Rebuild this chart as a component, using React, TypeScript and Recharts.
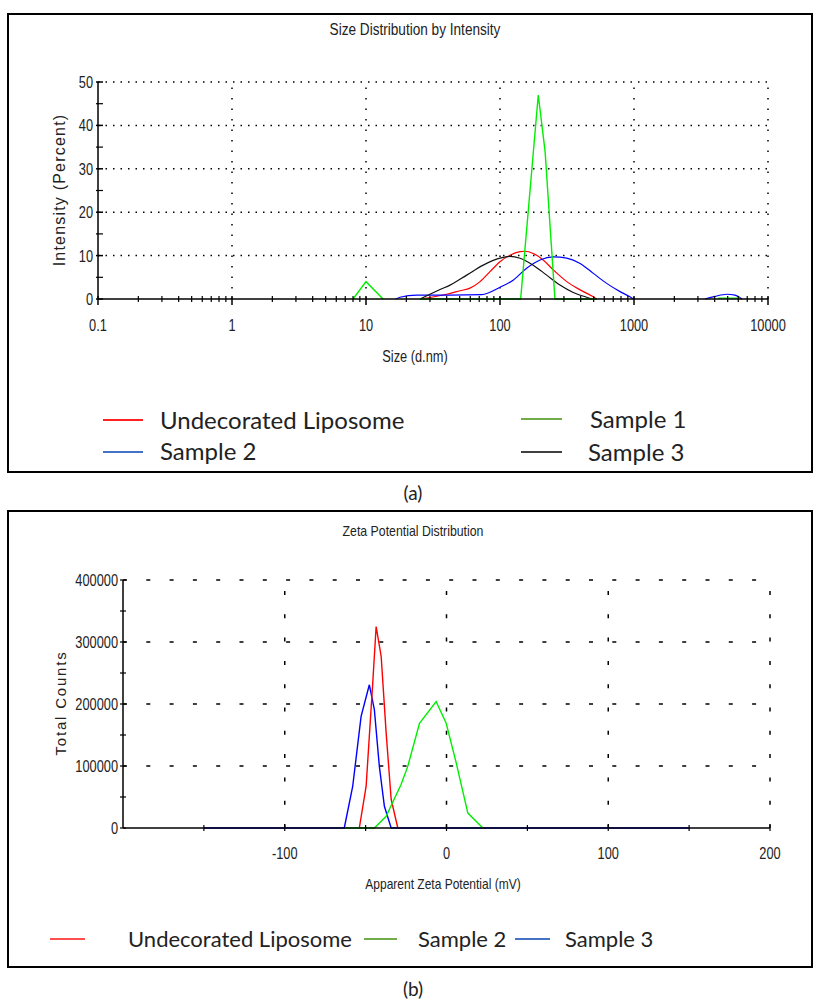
import React from "react";
import { LineChart, Line, XAxis, YAxis, ReferenceLine } from "recharts";

const NARROW = "'Liberation Sans', Arial, sans-serif";
const SQUEEZE = 0.8;
const BODY = "Lato, 'Open Sans', sans-serif";

// ---------- (a) size distribution ----------
const sizeDecades = [0.1, 1, 10, 100, 1000, 10000];
const sizeTickLabels = ["0.1", "1", "10", "100", "1000", "10000"];
const sizeMinor = [2, 3, 4, 5, 6, 7, 8, 9];
const intensityTicks = [0, 5, 10, 15, 20, 25, 30, 35, 40, 45, 50];
const intensityGrid = [10, 20, 30, 40, 50];

const liposomeSize = [25.3, 40, 50.3, 59.7, 71, 84.2, 100, 118.8, 141, 154, 177, 210, 250, 315, 396, 497, 526];
const liposomeIntensity = [0, 1.1, 1.9, 2.5, 4.0, 6.3, 8.6, 10.1, 10.9, 11.0, 10.5, 9.0, 6.7, 4.0, 2.1, 0.5, 0];

const sample1Size = [8, 10, 13.4, 19, 25.3, 142.6, 193, 217, 257, 530, 3000, 4240, 6180];
const sample1Intensity = [0, 4, 0, null, 0, 0, 47, 34, 0, 0, null, 0.2, 0.2];

const sample2Size = [16.7, 17.9, 23.9, 42.4, 73, 100, 126, 158, 199, 250, 315, 396, 497, 625, 787, 933, 990, 2000, 3390, 4020, 4940, 5670, 6400];
const sample2Intensity = [0, 0.4, 0.9, 0.9, 1.0, 2.7, 4.4, 7.1, 9.0, 9.7, 9.4, 8.2, 5.9, 3.6, 1.7, 0.5, 0, null, 0, 0.6, 1.1, 0.9, 0];

const sample3Size = [25.3, 30, 35.7, 42.4, 56.4, 75, 100, 118.8, 141, 177, 223, 280, 352, 443, 486];
const sample3Intensity = [0, 1.1, 2.2, 3.2, 5.5, 7.8, 9.4, 9.8, 9.4, 7.8, 5.5, 3.2, 1.5, 0.4, 0];

// ---------- (b) zeta potential ----------
const zetaTicks = [-150, -100, -50, 0, 50, 100, 150, 200];
const zetaLabelled = [-100, 0, 100, 200];
const countTicks = [0, 50000, 100000, 150000, 200000, 250000, 300000, 350000, 400000];
const countGrid = [100000, 200000, 300000, 400000];

const zLiposomeMv = [-53.9, -49.7, -45.6, -43.5, -40.4, -37.3, -34.2, -30.1];
const zLiposomeCounts = [0, 67000, 234000, 325000, 277000, 153000, 46000, 0];

const zSample2Mv = [-62.5, -44.6, -37.3, -28.1, -24.0, -16.7, -6.4, -0.2, 6.0, 13.2, 22.5];
const zSample2Counts = [0, 0, 19000, 70000, 99000, 169000, 204000, 169000, 105000, 24000, 0];

const zSample3Mv = [-150, -63.2, -58, -52.8, -47.7, -44.6, -41.5, -38.4, -34.2, 150];
const zSample3Counts = [0, 0, 67000, 180000, 231000, 191000, 99000, 35000, 0, 0];

const toPoints = (xs: number[], ys: (number | null)[]) => xs.map((x, i) => ({ x, y: ys[i] }));

const sizeTicks = [
  ...sizeDecades,
  ...sizeDecades.slice(0, -1).flatMap((d) => sizeMinor.map((m) => d * m)),
];

// squeezed axis numbers, like the instrument's narrow font
function Num({ x, y, anchor, children }: any) {
  return (
    <text
      transform={`translate(${x},${y}) scale(${SQUEEZE},1)`}
      textAnchor={anchor}
      fontSize={16}
      fontFamily={NARROW}
      fill="#222"
    >
      {children}
    </text>
  );
}

function SizeTick({ x, y, payload }: any) {
  const i = sizeDecades.indexOf(payload.value);
  if (i < 0) return <line x1={x} x2={x} y1={y - 3} y2={y + 3} stroke="#000" strokeWidth={1.2} />;
  return (
    <g>
      <line x1={x} x2={x} y1={y - 3} y2={y + 6} stroke="#000" strokeWidth={1.5} />
      <Num x={x} y={y + 32} anchor="middle">{sizeTickLabels[i]}</Num>
    </g>
  );
}

function IntensityTick({ x, y, payload }: any) {
  const v = payload.value;
  if (v % 10 !== 0) return <line x1={x - 2} x2={x + 5} y1={y} y2={y} stroke="#000" strokeWidth={1.2} />;
  return (
    <g>
      <line x1={x - 2} x2={x + 5} y1={y} y2={y} stroke="#000" strokeWidth={1.5} />
      <Num x={x - 5} y={y + 6} anchor="end">{v}</Num>
    </g>
  );
}

function ZetaTick({ x, y, payload }: any) {
  const v = payload.value;
  return (
    <g>
      <line x1={x} x2={x} y1={y - 3} y2={y + 3} stroke="#000" strokeWidth={1.2} />
      {zetaLabelled.includes(v) && <Num x={x} y={y + 31} anchor="middle">{v}</Num>}
    </g>
  );
}

function CountTick({ x, y, payload }: any) {
  const v = payload.value;
  return (
    <g>
      <line x1={x - 3} x2={x + 3} y1={y} y2={y} stroke="#000" strokeWidth={1.2} />
      {v % 100000 === 0 && <Num x={x - 5} y={y + 6} anchor="end">{v}</Num>}
    </g>
  );
}

function Txt({ x, y, children, size, font, anchor = "middle", rotate = false, spacing = 0, squeeze = 1 }: any) {
  const tx = anchor === "middle" ? "-50%" : "0";
  return (
    <div
      style={{
        position: "absolute",
        left: x,
        top: y,
        transform: `translate(${tx}, -50%)${rotate ? " rotate(-90deg)" : ""}${squeeze !== 1 ? ` scale(${squeeze},1)` : ""}`,
        fontSize: size,
        fontFamily: font,
        letterSpacing: spacing,
        lineHeight: 1,
        whiteSpace: "nowrap",
        color: "#222",
      }}
    >
      {children}
    </div>
  );
}

function Swatch({ x1, x2, y, color }: any) {
  return <div style={{ position: "absolute", left: x1, top: y - 1, width: x2 - x1, height: 2, background: color }} />;
}

const boxStyle: React.CSSProperties = {
  position: "absolute",
  left: 7,
  width: 806,
  border: "2px solid #000",
  boxSizing: "border-box",
};

export default function App() {
  return (
    <div style={{ position: "absolute", left: 0, top: 0, width: 814, height: 1000, background: "#fff" }}>
      {/* ---- (a) ---- */}
      <div style={{ ...boxStyle, top: 13, height: 460 }} />
      <div style={{ position: "absolute", left: 0, top: 0 }}>
        <LineChart width={814} height={500} margin={{ top: 82, right: 46, bottom: 161, left: 58 }}>
          <XAxis
            dataKey="x"
            type="number"
            scale="log"
            domain={[0.1, 10000]}
            allowDataOverflow
            ticks={sizeTicks}
            interval={0}
            tickSize={0}
            tickMargin={0}
            height={40}
            tick={(p: any) => <SizeTick {...p} />}
            axisLine={{ stroke: "#000", strokeWidth: 1.5 }}
          />
          <YAxis
            type="number"
            domain={[0, 50]}
            ticks={intensityTicks}
            interval={0}
            tickSize={0}
            tickMargin={0}
            width={40}
            tick={(p: any) => <IntensityTick {...p} />}
            axisLine={{ stroke: "#000", strokeWidth: 1.5 }}
          />
          {intensityGrid.map((v) => (
            <ReferenceLine key={"h" + v} y={v} stroke="#000" strokeWidth={1.5} strokeDasharray="1.5 6" />
          ))}
          {sizeDecades.slice(1).map((v) => (
            <ReferenceLine key={"v" + v} x={v} stroke="#000" strokeWidth={1.5} strokeDasharray="1.5 9" />
          ))}
          <Line data={toPoints(liposomeSize, liposomeIntensity)} dataKey="y" type="monotone" stroke="#ff0000" strokeWidth={1.2} dot={false} activeDot={false} isAnimationActive={false} />
          <Line data={toPoints(sample2Size, sample2Intensity)} dataKey="y" type="monotone" stroke="#0000ff" strokeWidth={1.2} dot={false} activeDot={false} isAnimationActive={false} />
          <Line data={toPoints(sample3Size, sample3Intensity)} dataKey="y" type="monotone" stroke="#111" strokeWidth={1.2} dot={false} activeDot={false} isAnimationActive={false} />
          <Line data={toPoints(sample1Size, sample1Intensity)} dataKey="y" type="linear" stroke="#00ee00" strokeWidth={1.4} dot={false} activeDot={false} isAnimationActive={false} />
        </LineChart>
      </div>
      <Txt x={415} y={30} size={16} font={NARROW} squeeze={0.85}>Size Distribution by Intensity</Txt>
      <Txt x={60} y={190} size={16} font={NARROW} rotate spacing={1.2}>Intensity (Percent)</Txt>
      <Txt x={415} y={357} size={16} font={NARROW} squeeze={SQUEEZE}>Size (d.nm)</Txt>
      <Swatch x1={103} x2={143} y={420} color="#ff2020" />
      <Txt x={160} y={420} size={24} font={BODY} anchor="start">Undecorated Liposome</Txt>
      <Swatch x1={521} x2={562} y={419} color="#70ad47" />
      <Txt x={590} y={419} size={24} font={BODY} anchor="start">Sample 1</Txt>
      <Swatch x1={103} x2={143} y={452} color="#4472c4" />
      <Txt x={160} y={451} size={24} font={BODY} anchor="start">Sample 2</Txt>
      <Swatch x1={521} x2={562} y={452} color="#404040" />
      <Txt x={588} y={452} size={24} font={BODY} anchor="start">Sample 3</Txt>
      <Txt x={413} y={492} size={19} font={BODY}>(a)</Txt>

      {/* ---- (b) ---- */}
      <div style={{ ...boxStyle, top: 510, height: 458 }} />
      <div style={{ position: "absolute", left: 0, top: 500 }}>
        <LineChart width={814} height={500} margin={{ top: 80, right: 44, bottom: 132, left: 63 }}>
          <XAxis
            dataKey="x"
            type="number"
            domain={[-200, 200]}
            allowDataOverflow
            ticks={zetaTicks}
            interval={0}
            tickSize={0}
            tickMargin={0}
            height={40}
            tick={(p: any) => <ZetaTick {...p} />}
            axisLine={{ stroke: "#000", strokeWidth: 1.5 }}
          />
          <YAxis
            type="number"
            domain={[0, 400000]}
            ticks={countTicks}
            interval={0}
            tickSize={0}
            tickMargin={0}
            width={60}
            tick={(p: any) => <CountTick {...p} />}
            axisLine={{ stroke: "#000", strokeWidth: 1.5 }}
          />
          {countGrid.map((v) => (
            <ReferenceLine key={"h" + v} y={v} stroke="#000" strokeWidth={1.5} strokeDasharray="4 19.3" />
          ))}
          {zetaLabelled.map((v) => (
            <ReferenceLine key={"v" + v} x={v} stroke="#000" strokeWidth={1.5} strokeDasharray="4 19.3" />
          ))}
          <Line data={toPoints(zSample3Mv, zSample3Counts)} dataKey="y" type="linear" stroke="#0000ff" strokeWidth={1.4} dot={false} activeDot={false} isAnimationActive={false} />
          <Line data={toPoints(zLiposomeMv, zLiposomeCounts)} dataKey="y" type="linear" stroke="#ff0000" strokeWidth={1.4} dot={false} activeDot={false} isAnimationActive={false} />
          <Line data={toPoints(zSample2Mv, zSample2Counts)} dataKey="y" type="linear" stroke="#00ee00" strokeWidth={1.4} dot={false} activeDot={false} isAnimationActive={false} />
        </LineChart>
      </div>
      <Txt x={413} y={530} size={15} font={NARROW} squeeze={0.82}>Zeta Potential Distribution</Txt>
      <Txt x={60} y={703} size={15} font={NARROW} rotate spacing={1.8}>Total Counts</Txt>
      <Txt x={443} y={883} size={15} font={NARROW} squeeze={SQUEEZE}>Apparent Zeta Potential (mV)</Txt>
      <Swatch x1={50} x2={85} y={939} color="#ff5050" />
      <Txt x={128} y={939} size={22} font={BODY} anchor="start">Undecorated Liposome</Txt>
      <Swatch x1={364} x2={397} y={939} color="#70ad47" />
      <Txt x={418} y={939} size={22} font={BODY} anchor="start">Sample 2</Txt>
      <Swatch x1={515} x2={550} y={939} color="#4472c4" />
      <Txt x={565} y={939} size={22} font={BODY} anchor="start">Sample 3</Txt>
      <Txt x={413} y={988} size={19} font={BODY}>(b)</Txt>
    </div>
  );
}
